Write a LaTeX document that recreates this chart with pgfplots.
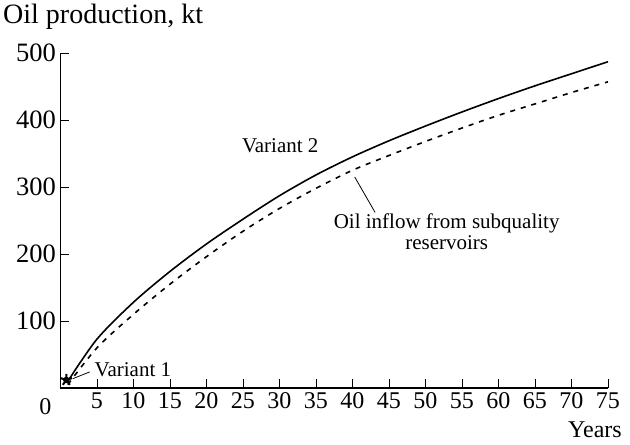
\documentclass[border=0pt]{standalone}
\usepackage{fontspec}
\setmainfont{Liberation Serif}
\usepackage{pgfplots}
\pgfplotsset{compat=1.18}

\begin{document}
\begin{tikzpicture}[x=1pt,y=1pt]
\begin{axis}[name=ax,scale only axis,width=547.5pt,height=335pt,
  xmin=0,xmax=75,ymin=0,ymax=500,
  axis x line=bottom,axis y line=left,axis line style={line width=1.2pt,-},
  xtick={5,10,...,75},ytick={100,200,...,500},
  tick align=inside,major tick length=9pt,tick style={line width=0.9pt,black},
  /pgf/number format/assume math mode=true,
  xticklabel style={font=\fontsize{24}{28}\selectfont,yshift=-1pt},
  yticklabel style={font=\fontsize{26.5}{30}\selectfont,xshift=-1pt},
  clip=false]
\addplot[black,line width=1.6pt,smooth] coordinates {
(1,10) (5,73) (10,128) (15,174) (20,215) (25,252) (30,287) (35,318)
(40,345) (45,369) (50,391) (55,412) (60,432) (65,451) (70,469) (75,487)};
\addplot[black,line width=1.6pt,dash pattern=on 5pt off 6pt,smooth] coordinates {
(1,5) (5,60) (10,110) (15,155) (20,196) (25,234) (30,268) (35,298)
(40,325) (45,347) (50,368) (55,388) (60,407) (65,424) (70,441) (75,457)};
\addplot[black,only marks,mark=star,mark size=6pt,line width=2pt] coordinates {(0.8,12)};
\addplot[black,only marks,mark=*,mark size=3pt] coordinates {(0.8,12)};
\draw[line width=0.8pt] (axis cs:1.7,14) -- (axis cs:4.0,24);
\node[anchor=west,font=\fontsize{21}{25}\selectfont] at (axis cs:4.2,28) {Variant 1};
\node[font=\fontsize{21}{25}\selectfont] at (axis cs:30.1,361) {Variant 2};
\draw[line width=0.8pt] (axis cs:40.3,315) -- (axis cs:43.1,262);
\node[align=center,font=\fontsize{21}{21}\selectfont] at (axis cs:52.9,233)
  {Oil inflow from subquality\\reservoirs};
\node[anchor=north east,font=\fontsize{24}{28}\selectfont,inner sep=0pt] at (axis cs:0,0) [xshift=-9pt,yshift=-10pt] {0};
\end{axis}
\node[anchor=east,font=\fontsize{28}{32}\selectfont,inner sep=0pt] at (-57.5,371) [anchor=west] {Oil production, kt};
\node[anchor=east,font=\fontsize{24}{28}\selectfont,inner sep=0pt] at (561.5,-42) {Years};
\pgfresetboundingbox
\useasboundingbox (-60.5,-57) rectangle (569.5,388);
\end{tikzpicture}
\end{document}
